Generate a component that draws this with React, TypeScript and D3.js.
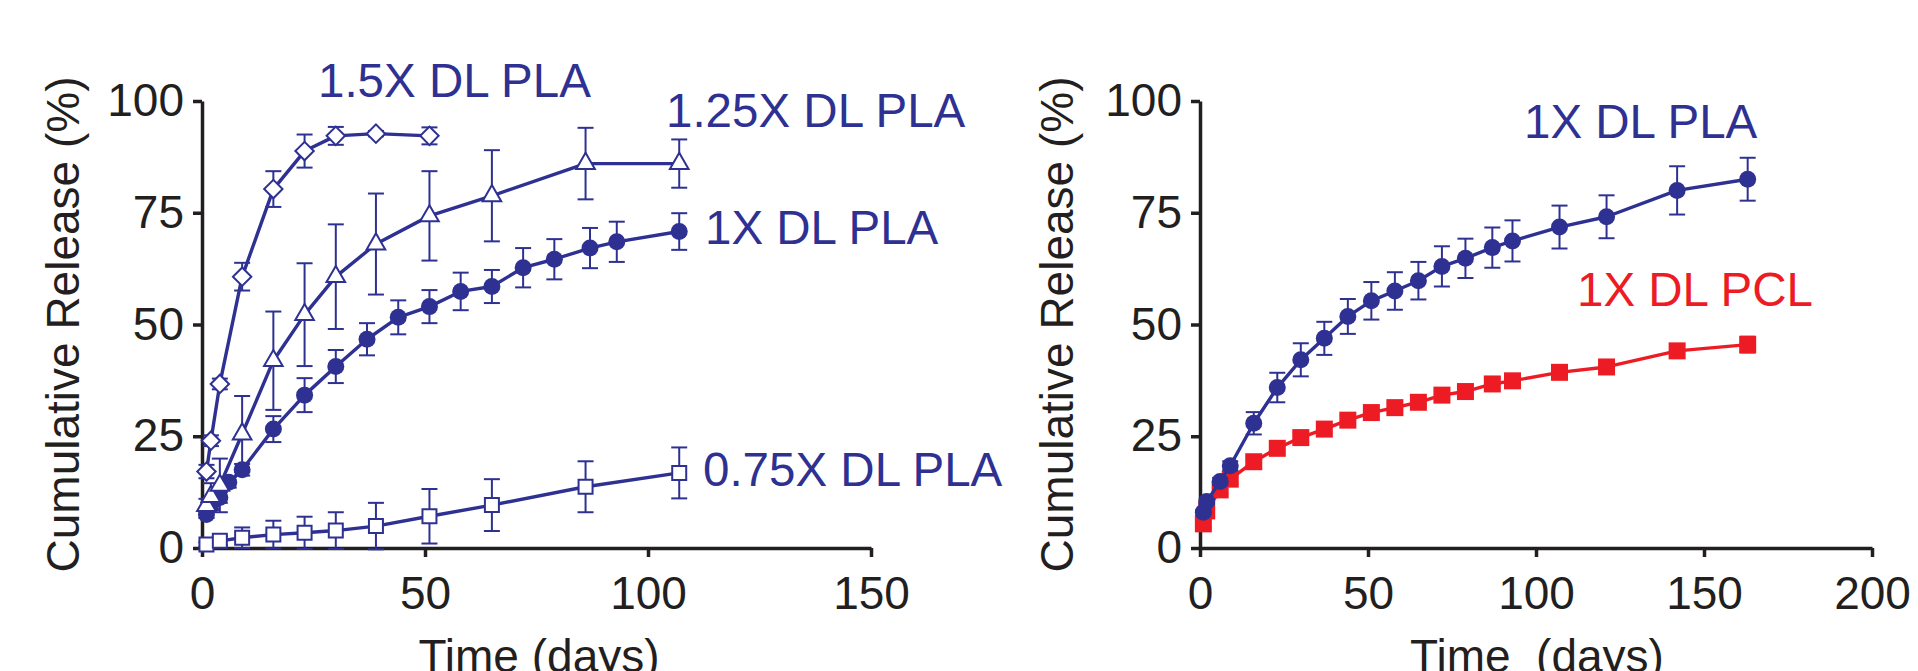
import React, { useRef, useEffect } from "react";
import * as d3 from "d3";

const BLUE = "#2E3192";
const RED = "#ED1C24";
const INK = "#231F20";
const FONT = "'Liberation Sans', Arial, Helvetica, sans-serif";

// ---- left panel: loading series ----
const days15 = [1, 2, 4, 9, 16, 23, 30, 39, 51];
const rel15 = [17.1, 24.0, 36.7, 60.7, 80.3, 88.8, 92.2, 92.7, 92.2];
const err15 = [1.5, 1.2, 1.2, 3.1, 4.0, 3.7, 2.0, 0.6, 1.9];

const days125 = [1, 2, 4, 9, 16, 23, 30, 39, 51, 65, 86, 107];
const rel125 = [9.5, 11.5, 14.0, 25.5, 41.9, 52.2, 60.7, 68.0, 74.3, 78.8, 86.0, 86.0];
const err125 = [1.5, 3.0, 6.0, 8.5, 11.0, 11.5, 11.7, 11.3, 10.0, 10.2, 8.0, 5.4];

const days1x = [1, 2, 4, 6, 9, 16, 23, 30, 37, 44, 51, 58, 65, 72, 79, 87, 93, 107];
const rel1x = [7.5, 9.8, 11.3, 14.7, 17.5, 26.6, 34.2, 40.6, 46.7, 51.6, 54.0, 57.4, 58.5, 62.7, 64.6, 67.1, 68.5, 70.8];
const err1x = [0.8, 1.0, 1.2, 1.2, 1.3, 2.9, 3.8, 3.7, 3.6, 3.8, 3.7, 4.2, 3.7, 4.4, 4.5, 4.5, 4.5, 4.1];

const days075 = [1, 4, 9, 16, 23, 30, 39, 51, 65, 86, 107];
const rel075 = [0.8, 1.6, 2.3, 3.0, 3.4, 3.9, 4.9, 7.1, 9.6, 13.7, 16.8];
const err075 = [0.5, 1.0, 2.3, 3.1, 3.6, 4.1, 5.2, 6.1, 5.8, 5.7, 5.7];

// ---- right panel: polymer comparison ----
const daysR = [1, 2, 6, 9, 16, 23, 30, 37, 44, 51, 58, 65, 72, 79, 87, 93, 107, 121, 142, 163];
const relPLA = [8.0, 10.4, 14.9, 18.4, 27.9, 35.9, 42.1, 46.9, 51.8, 55.3, 57.5, 59.8, 63.0, 64.8, 67.2, 68.7, 71.8, 74.1, 80.0, 82.5];
const errPLA = [0.5, 0.6, 0.8, 1.0, 2.5, 3.3, 3.7, 3.7, 3.9, 4.2, 4.2, 4.2, 4.5, 4.4, 4.5, 4.6, 4.8, 4.8, 5.4, 4.8];
const relPCL = [5.4, 8.3, 13.0, 15.4, 19.3, 22.3, 24.7, 26.6, 28.6, 30.3, 31.4, 32.6, 34.2, 35.0, 36.7, 37.4, 39.3, 40.5, 44.1, 45.5];
const errPCL = [0.8, 1.0, 1.0, 1.0, 1.0, 1.0, 1.0, 1.0, 1.0, 1.0, 1.0, 1.0, 1.0, 1.2, 1.2, 1.2, 1.3, 1.4, 1.5, 1.8];

const yTicks = [0, 25, 50, 75, 100];
const xTicksL = [0, 50, 100, 150];
const xTicksR = [0, 50, 100, 150, 200];

type Shape = "circle" | "diamond" | "triangle" | "square" | "solidSquare";
type Series = { days: number[]; vals: number[]; errs: number[]; shape: Shape; color: string };

const leftSeries: Series[] = [
  { days: days075, vals: rel075, errs: err075, shape: "square", color: BLUE },
  { days: days1x, vals: rel1x, errs: err1x, shape: "circle", color: BLUE },
  { days: days125, vals: rel125, errs: err125, shape: "triangle", color: BLUE },
  { days: days15, vals: rel15, errs: err15, shape: "diamond", color: BLUE },
];
const rightSeries: Series[] = [
  { days: daysR, vals: relPCL, errs: errPCL, shape: "solidSquare", color: RED },
  { days: daysR, vals: relPLA, errs: errPLA, shape: "circle", color: BLUE },
];

const leftLabels = [
  { text: "1.5X DL PLA", x: 318, y: 97, color: BLUE },
  { text: "1.25X DL PLA", x: 666, y: 127, color: BLUE },
  { text: "1X DL PLA", x: 705, y: 244, color: BLUE },
  { text: "0.75X DL PLA", x: 703, y: 486, color: BLUE },
];
const rightLabels = [
  { text: "1X DL PLA", x: 1524, y: 138, color: BLUE },
  { text: "1X DL PCL", x: 1577, y: 306, color: RED },
];

function symbolFor(shape: Shape) {
  if (shape === "circle") return d3.symbol(d3.symbolCircle, Math.PI * 8.5 * 8.5)();
  if (shape === "diamond") return d3.symbol(d3.symbolSquare, 13 * 13)();
  if (shape === "triangle") return d3.symbol(d3.symbolTriangle, 150)();
  if (shape === "square") return d3.symbol(d3.symbolSquare, 14 * 14)();
  return d3.symbol(d3.symbolSquare, 17 * 17)();
}

function drawPanel(svg: any, cfg: any) {
  const x = d3.scaleLinear().domain([0, cfg.xMax]).range(cfg.xRange);
  const y = d3.scaleLinear().domain([0, 100]).range([548, 101]);
  const g = svg.append("g");

  const ax = g
    .append("g")
    .attr("transform", `translate(0,${y(0)})`)
    .call(d3.axisBottom(x).tickValues(cfg.xTicks).tickSize(9).tickSizeOuter(0).tickPadding(19));
  const ay = g
    .append("g")
    .attr("transform", `translate(${x(0)},0)`)
    .call(d3.axisLeft(y).tickValues(yTicks).tickSize(9).tickSizeOuter(0).tickPadding(9));
  [ax, ay].forEach((a) => {
    a.select(".domain").attr("stroke", INK).attr("stroke-width", 3.5);
    a.selectAll(".tick line").attr("stroke", INK).attr("stroke-width", 3.5);
    a.selectAll(".tick text")
      .attr("fill", INK)
      .attr("font-size", 46)
      .attr("font-family", FONT);
  });

  // axis titles
  g.append("text")
    .attr("transform", `translate(${cfg.yTitleX},${(y(0) + y(100)) / 2}) rotate(-90)`)
    .attr("text-anchor", "middle")
    .attr("font-family", FONT)
    .attr("font-size", 46)
    .attr("fill", INK)
    .text("Cumulative Release (%)");
  g.append("text")
    .attr("x", cfg.xTitleX)
    .attr("y", 672)
    .attr("text-anchor", "middle")
    .attr("font-family", FONT)
    .attr("font-size", 46)
    .attr("fill", INK)
    .style("white-space", "pre")
    .text(cfg.xTitle);

  cfg.series.forEach((s: Series) => {
    const pts = s.days.map((d, i) => ({ d, v: s.vals[i], e: s.errs[i] }));
    const sg = g.append("g");
    // error bars
    const eb = sg.append("g").attr("stroke", s.color).attr("stroke-width", 2).attr("fill", "none");
    pts.forEach((p) => {
      const cx = x(p.d);
      eb.append("line").attr("x1", cx).attr("x2", cx).attr("y1", y(p.v - p.e)).attr("y2", y(p.v + p.e));
      [p.v - p.e, p.v + p.e].forEach((val) => {
        eb.append("line").attr("x1", cx - 8).attr("x2", cx + 8).attr("y1", y(val)).attr("y2", y(val));
      });
    });
    // line
    const line = d3
      .line<any>()
      .x((p) => x(p.d))
      .y((p) => y(p.v));
    sg.append("path")
      .attr("d", line(pts))
      .attr("fill", "none")
      .attr("stroke", s.color)
      .attr("stroke-width", 3.4)
      .attr("stroke-linejoin", "round");
    // markers
    const open = s.shape === "diamond" || s.shape === "triangle" || s.shape === "square";
    sg.selectAll("path.mk")
      .data(pts)
      .enter()
      .append("path")
      .attr("class", "mk")
      .attr("d", symbolFor(s.shape))
      .attr(
        "transform",
        (p: any) => `translate(${x(p.d)},${y(p.v)})${s.shape === "diamond" ? " rotate(45)" : ""}`
      )
      .attr("fill", open ? "#fff" : s.color)
      .attr("stroke", s.color)
      .attr("stroke-width", open ? 2 : 0);
  });

  cfg.labels.forEach((l: any) => {
    g.append("text")
      .attr("x", l.x)
      .attr("y", l.y)
      .attr("font-family", FONT)
      .attr("font-size", 47.5)
      .attr("fill", l.color)
      .text(l.text);
  });
}

export default function App() {
  const svgRef = useRef<SVGSVGElement>(null);

  useEffect(() => {
    const svg = d3.select(svgRef.current);
    svg.selectAll("*").remove();
    drawPanel(svg, {
      xMax: 150,
      xRange: [202, 871],
      xTicks: xTicksL,
      series: leftSeries,
      labels: leftLabels,
      yTitleX: 79,
      xTitleX: 539,
      xTitle: "Time (days)",
    });
    drawPanel(svg, {
      xMax: 200,
      xRange: [1200, 1872],
      xTicks: xTicksR,
      series: rightSeries,
      labels: rightLabels,
      yTitleX: 1073,
      xTitleX: 1537,
      xTitle: "Time  (days)",
    });
  }, []);

  return (
    <svg
      ref={svgRef}
      width={1918}
      height={671}
      style={{ position: "absolute", left: 0, top: 0, background: "#fff", display: "block" }}
    />
  );
}
